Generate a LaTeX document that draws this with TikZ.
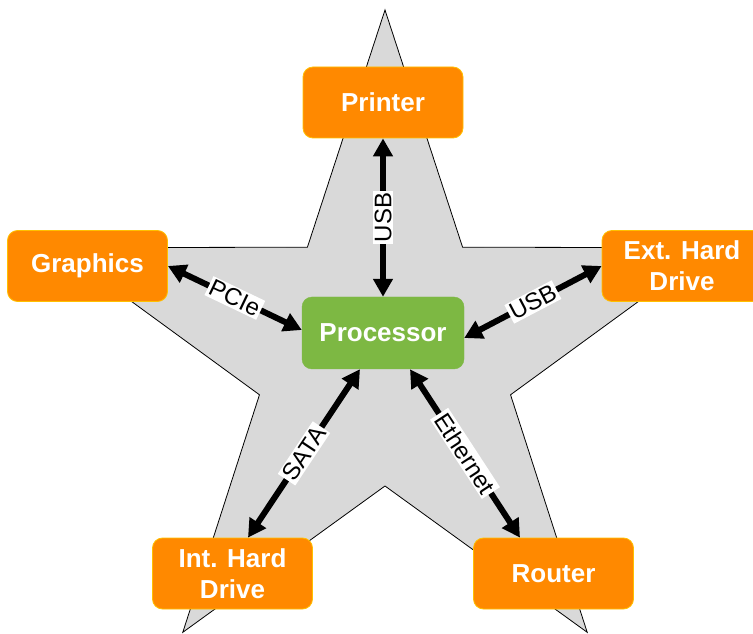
\documentclass[tikz,border=0pt]{standalone}
\usepackage{fontspec}
\setmainfont{Liberation Sans}
\usetikzlibrary{arrows.meta}
\definecolor{orng}{RGB}{255,137,0}
\definecolor{orngb}{RGB}{255,192,0}
\definecolor{grn}{RGB}{125,184,67}
\definecolor{starg}{RGB}{217,217,217}
\begin{document}
\begin{tikzpicture}[x=1pt,y=1pt,
 box/.style={rounded corners=10pt, minimum width=160pt, minimum height=71pt, text=white, font=\fontsize{26}{31}\selectfont\bfseries, align=center, inner sep=0pt},
 dev/.style={box, fill=orng, draw=orngb, line width=0.8pt},
 cpu/.style={box, fill=grn, draw=grn, minimum width=162pt, minimum height=72pt},
 link/.style={line width=6pt, {Triangle[length=18pt,width=19pt]}-{Triangle[length=18pt,width=19pt]}},
 lbl/.style={fill=white, font=\fontsize{24}{24}\selectfont, inner sep=2pt, text=black}
]
\useasboundingbox (0,0) rectangle (753,633);
\draw[fill=starg, line width=0.8pt, shift={(385,279)}]
  (90:344) -- (126:132) -- (162:344) -- (198:132) -- (234:344) -- (270:132)
  -- (306:344) -- (342:132) -- (18:344) -- (54:132) -- cycle;

\node[dev] (printer) at (383,530.5) {Printer};
\node[dev] (graphics) at (87.5,367) {Graphics};
\node[dev] (ext) at (682,367) {Ext. Hard\\Drive};
\node[cpu] (proc) at (383,300) {Processor};
\node[dev] (ihd) at (232.5,59.5) {Int. Hard\\Drive};
\node[dev] (router) at (553.5,59.5) {Router};

\draw[link] (printer.south) -- (proc.north) node[lbl, midway, rotate=90] {USB};
\draw[link] (graphics.east) -- ([yshift=3pt]proc.west) node[lbl, midway, sloped] {PCIe};
\draw[link] (ext.west) -- ([yshift=-5pt]proc.east) node[lbl, midway, sloped] {USB};
\draw[link] ([xshift=-23pt]proc.south) -- ([xshift=15.5pt]ihd.north) node[lbl, midway, sloped] {SATA};
\draw[link] ([xshift=27pt]proc.south) -- ([xshift=-33.5pt]router.north) node[lbl, midway, sloped] {Ethernet};
\end{tikzpicture}
\end{document}
